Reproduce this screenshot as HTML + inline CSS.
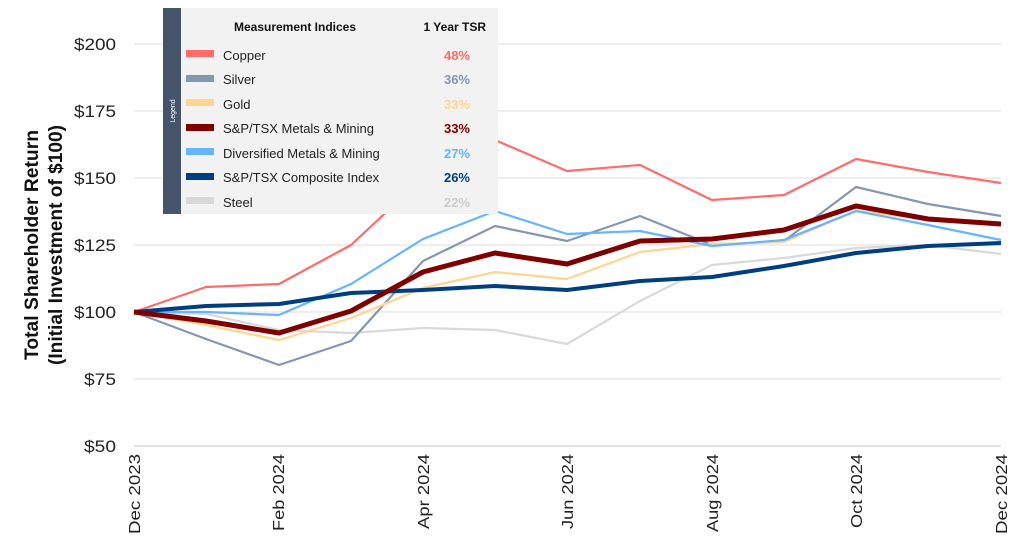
<!DOCTYPE html>
<html><head><meta charset="utf-8"><style>
html,body{margin:0;padding:0;background:#fff;}
svg{display:block;font-family:"Liberation Sans",sans-serif;}
</style></head><body>
<svg width="1024" height="541" viewBox="0 0 1024 541" xmlns="http://www.w3.org/2000/svg">
<g stroke="#e8e8e8" stroke-width="1.5">
<line x1="134" y1="44" x2="1001" y2="44"/>
<line x1="134" y1="111" x2="1001" y2="111"/>
<line x1="134" y1="178" x2="1001" y2="178"/>
<line x1="134" y1="245" x2="1001" y2="245"/>
<line x1="134" y1="312" x2="1001" y2="312"/>
<line x1="134" y1="379" x2="1001" y2="379"/>
<line x1="134" y1="446" x2="1001" y2="446" stroke="#d9d9d9"/>
</g>
<g font-size="17" fill="#222" text-anchor="end">
<text x="116" y="50" textLength="42" lengthAdjust="spacingAndGlyphs">$200</text>
<text x="116" y="117" textLength="42" lengthAdjust="spacingAndGlyphs">$175</text>
<text x="116" y="184" textLength="42" lengthAdjust="spacingAndGlyphs">$150</text>
<text x="116" y="251" textLength="42" lengthAdjust="spacingAndGlyphs">$125</text>
<text x="116" y="318" textLength="42" lengthAdjust="spacingAndGlyphs">$100</text>
<text x="116" y="385" textLength="32" lengthAdjust="spacingAndGlyphs">$75</text>
<text x="116" y="452" textLength="32" lengthAdjust="spacingAndGlyphs">$50</text>
</g>
<g font-size="19" font-weight="bold" fill="#111" text-anchor="middle">
<text transform="translate(38,245) rotate(-90)" textLength="230" lengthAdjust="spacingAndGlyphs">Total Shareholder Return</text>
<text transform="translate(62,245) rotate(-90)" textLength="240" lengthAdjust="spacingAndGlyphs">(Initial Investment of $100)</text>
</g>
<g font-size="16" fill="#222" text-anchor="end">
<text transform="translate(140,454) rotate(-90)" textLength="80" lengthAdjust="spacingAndGlyphs">Dec 2023</text>
<text transform="translate(284,454) rotate(-90)" textLength="77" lengthAdjust="spacingAndGlyphs">Feb 2024</text>
<text transform="translate(429,454) rotate(-90)" textLength="75" lengthAdjust="spacingAndGlyphs">Apr 2024</text>
<text transform="translate(573,454) rotate(-90)" textLength="75" lengthAdjust="spacingAndGlyphs">Jun 2024</text>
<text transform="translate(718,454) rotate(-90)" textLength="78" lengthAdjust="spacingAndGlyphs">Aug 2024</text>
<text transform="translate(862,454) rotate(-90)" textLength="74" lengthAdjust="spacingAndGlyphs">Oct 2024</text>
<text transform="translate(1007,454) rotate(-90)" textLength="80" lengthAdjust="spacingAndGlyphs">Dec 2024</text>
</g>
<g fill="none" stroke-linejoin="round">
<polyline stroke="#d9d9d9" stroke-width="2.2" points="134,312 206,314 279,330 351,333 423,328 495,330 567,344 640,301 712,265 784,258 856,248 928,245 1001,254"/>
<polyline stroke="#ff6b6b" stroke-width="2.2" points="134,312 206,287 279,284 351,245 423,178 495,140 567,171 640,165 712,200 784,195 856,159 928,172 1001,183"/>
<polyline stroke="#8497b0" stroke-width="2.2" points="134,312 206,339 279,365 351,341 423,261 495,226 567,241 640,216 712,245 784,241 856,187 928,204 1001,216"/>
<polyline stroke="#ffd591" stroke-width="2.2" points="134,312 206,325 279,340 351,318 423,288 495,272 567,279 640,252 712,244 784,242 856,211 928,219 1001,224"/>
<polyline stroke="#66b3ff" stroke-width="2.2" points="134,312 206,312 279,315 351,284 423,239 495,211 567,234 640,231 712,246 784,240 856,211 928,225 1001,240"/>
<polyline stroke="#003f7f" stroke-width="4" points="134,312 206,306 279,304 351,293 423,290 495,286 567,290 640,281 712,277 784,266 856,253 928,246 1001,243"/>
<polyline stroke="#7f0000" stroke-width="5" points="134,312 206,321 279,333 351,311 423,272 495,253 567,264 640,241 712,239 784,230 856,206 928,219 1001,224"/>
</g>
<rect x="163" y="8" width="335" height="206" fill="#f2f2f2"/>
<rect x="163" y="8" width="18" height="206" fill="#44546a"/>
<text transform="translate(175,111) rotate(-90)" font-size="7" fill="#fff" text-anchor="middle">Legend</text>
<text x="295" y="31" font-size="12" font-weight="bold" fill="#111" text-anchor="middle">Measurement Indices</text>
<text x="486" y="31" font-size="12" font-weight="bold" fill="#111" text-anchor="end">1 Year TSR</text>
<g font-size="13" fill="#222">
<rect x="186" y="50" width="28" height="7" fill="#ff6b6b"/><text x="223" y="60">Copper</text>
<rect x="186" y="75" width="28" height="7" fill="#8497b0"/><text x="223" y="84">Silver</text>
<rect x="186" y="99" width="28" height="7" fill="#ffd591"/><text x="223" y="109">Gold</text>
<rect x="186" y="124" width="28" height="7" fill="#7f0000"/><text x="223" y="133">S&amp;P/TSX Metals &amp; Mining</text>
<rect x="186" y="148" width="28" height="7" fill="#66b3ff"/><text x="223" y="158">Diversified Metals &amp; Mining</text>
<rect x="186" y="173" width="28" height="7" fill="#003f7f"/><text x="223" y="182">S&amp;P/TSX Composite Index</text>
<rect x="186" y="197" width="28" height="7" fill="#d9d9d9"/><text x="223" y="207">Steel</text>
</g>
<g font-size="13" font-weight="bold" text-anchor="end">
<text x="470" y="60" fill="#ff6b6b">48%</text>
<text x="470" y="84" fill="#8497b0">36%</text>
<text x="470" y="109" fill="#ffd591">33%</text>
<text x="470" y="133" fill="#7f0000">33%</text>
<text x="470" y="158" fill="#66b3ff">27%</text>
<text x="470" y="182" fill="#003f7f">26%</text>
<text x="470" y="207" fill="#cccccc">22%</text>
</g>
</svg>
</body></html>
